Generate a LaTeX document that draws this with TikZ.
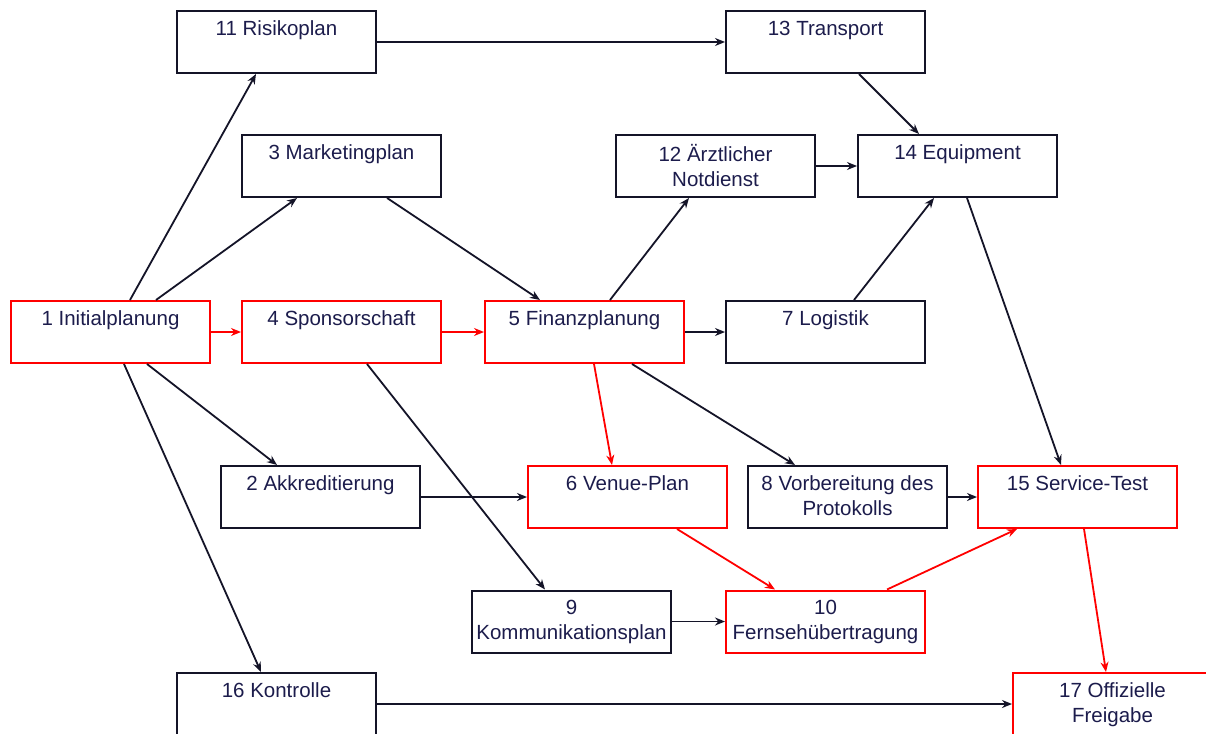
\documentclass[tikz,border=0pt]{standalone}
\usepackage{fontspec}
\setmainfont{Liberation Sans}
\usetikzlibrary{arrows.meta}
\definecolor{txt}{HTML}{1C1C4C}
\definecolor{ln}{HTML}{141428}
\definecolor{rd}{HTML}{FF0000}
\begin{document}
\begin{tikzpicture}[x=1pt,y=-1pt,
  box/.style={draw=ln,line width=2pt,minimum width=199pt,minimum height=62pt,inner sep=0pt,fill=white},
  rbox/.style={box,draw=rd},
  lbl/.style={anchor=north,inner sep=0pt,align=center,text=txt,font=\fontsize{20.5}{25}\selectfont},
  edge/.style={draw=ln,line width=1.8pt,-{Stealth[length=10pt,width=8pt]}},
  redge/.style={edge,draw=rd}]
\useasboundingbox[fill=white] (0,0) rectangle (1206,733);
% boxes
\node[box]  (n11) at (276.5,42) {};
\node[box]  (n13) at (825.5,42) {};
\node[box]  (n3)  at (341.5,166) {};
\node[box]  (n12) at (715.5,166) {};
\node[box]  (n14) at (957.5,166) {};
\node[rbox] (n1)  at (110.5,332) {};
\node[rbox] (n4)  at (341.5,332) {};
\node[rbox] (n5)  at (584.5,332) {};
\node[box]  (n7)  at (825.5,332) {};
\node[box]  (n2)  at (320.5,497) {};
\node[rbox] (n6)  at (627.5,497) {};
\node[box]  (n8)  at (847.5,497) {};
\node[rbox] (n15) at (1077.5,497) {};
\node[box]  (n9)  at (571.5,621.5) {};
\node[rbox] (n10) at (825.5,621.5) {};
\node[box]  (n16) at (276.5,704) {};
\node[rbox] (n17) at (1112.5,704) {};
% labels
\node[lbl] (t11) at ([yshift=-10.5pt]n11.north) {11 Risikoplan};
\node[lbl] (t13) at ([yshift=-10.5pt]n13.north) {13 Transport};
\node[lbl] (t3)  at ([yshift=-10.5pt]n3.north) {3 Marketingplan};
\node[lbl] (t12) at ([yshift=-10.5pt]n12.north) {12 Ärztlicher\\Notdienst};
\node[lbl] (t14) at ([yshift=-10.5pt]n14.north) {14 Equipment};
\node[lbl] (t1)  at ([yshift=-10.5pt]n1.north) {1 Initialplanung};
\node[lbl] (t4)  at ([yshift=-10.5pt]n4.north) {4 Sponsorschaft};
\node[lbl] (t5)  at ([yshift=-10.5pt]n5.north) {5 Finanzplanung};
\node[lbl] (t7)  at ([yshift=-10.5pt]n7.north) {7 Logistik};
\node[lbl] (t2)  at ([yshift=-10.5pt]n2.north) {2 Akkreditierung};
\node[lbl] (t6)  at ([yshift=-10.5pt]n6.north) {6 Venue-Plan};
\node[lbl] (t8)  at ([yshift=-10.5pt]n8.north) {8 Vorbereitung des\\Protokolls};
\node[lbl] (t15) at ([yshift=-10.5pt]n15.north) {15 Service-Test};
\node[lbl] (t9)  at ([yshift=-10.5pt]n9.north) {9\\Kommunikationsplan};
\node[lbl] (t10) at ([yshift=-10.5pt]n10.north) {10\\Fernsehübertragung};
\node[lbl] (t16) at ([yshift=-10.5pt]n16.north) {16 Kontrolle};
\node[lbl] (t17) at ([yshift=-10.5pt]n17.north) {17 Offizielle\\Freigabe};
% black edges
\draw[edge] ([xshift=120pt]n1.north west) -- ([xshift=80pt]n11.south west);
\draw[edge] ([xshift=146pt]n1.north west) -- ([xshift=56pt]n3.south west);
\draw[edge] (n11.east) -- (n13.west);
\draw[edge] ([xshift=146pt]n3.south west) -- ([xshift=56pt]n5.north west);
\draw[edge] ([xshift=134pt]n13.south west) -- ([xshift=62pt]n14.north west);
\draw[edge] (n12.east) -- (n14.west);
\draw[edge] ([xshift=126pt]n5.north west) -- ([xshift=74pt]n12.south west);
\draw[edge] ([xshift=129pt]n7.north west) -- ([xshift=77pt]n14.south west);
\draw[edge] ([xshift=110pt]n14.south west) -- ([xshift=84pt]n15.north west);
\draw[edge] (n5.east) -- (n7.west);
\draw[edge] ([xshift=137pt]n1.south west) -- ([xshift=57pt]n2.north west);
\draw[edge] ([xshift=114pt]n1.south west) -- ([xshift=85pt]n16.north west);
\draw[edge] ([xshift=126pt]n4.south west) -- ([xshift=74pt]n9.north west);
\draw[edge] ([xshift=148pt]n5.south west) -- ([xshift=48pt]n8.north west);
\draw[edge] (n2.east) -- (n6.west);
\draw[edge] (n8.east) -- (n15.west);
\draw[edge] (n9.east) -- (n10.west);
\draw[edge] (n16.east) -- (n17.west);
% red edges
\draw[redge] (n1.east) -- (n4.west);
\draw[redge] (n4.east) -- (n5.west);
\draw[redge] ([xshift=110pt]n5.south west) -- ([xshift=85pt]n6.north west);
\draw[redge] ([xshift=150pt]n6.south west) -- ([xshift=50pt]n10.north west);
\draw[redge] ([xshift=162pt]n10.north west) -- ([xshift=40pt]n15.south west);
\draw[redge] ([xshift=107pt]n15.south west) -- ([xshift=94pt]n17.north west);
\end{tikzpicture}
\end{document}
